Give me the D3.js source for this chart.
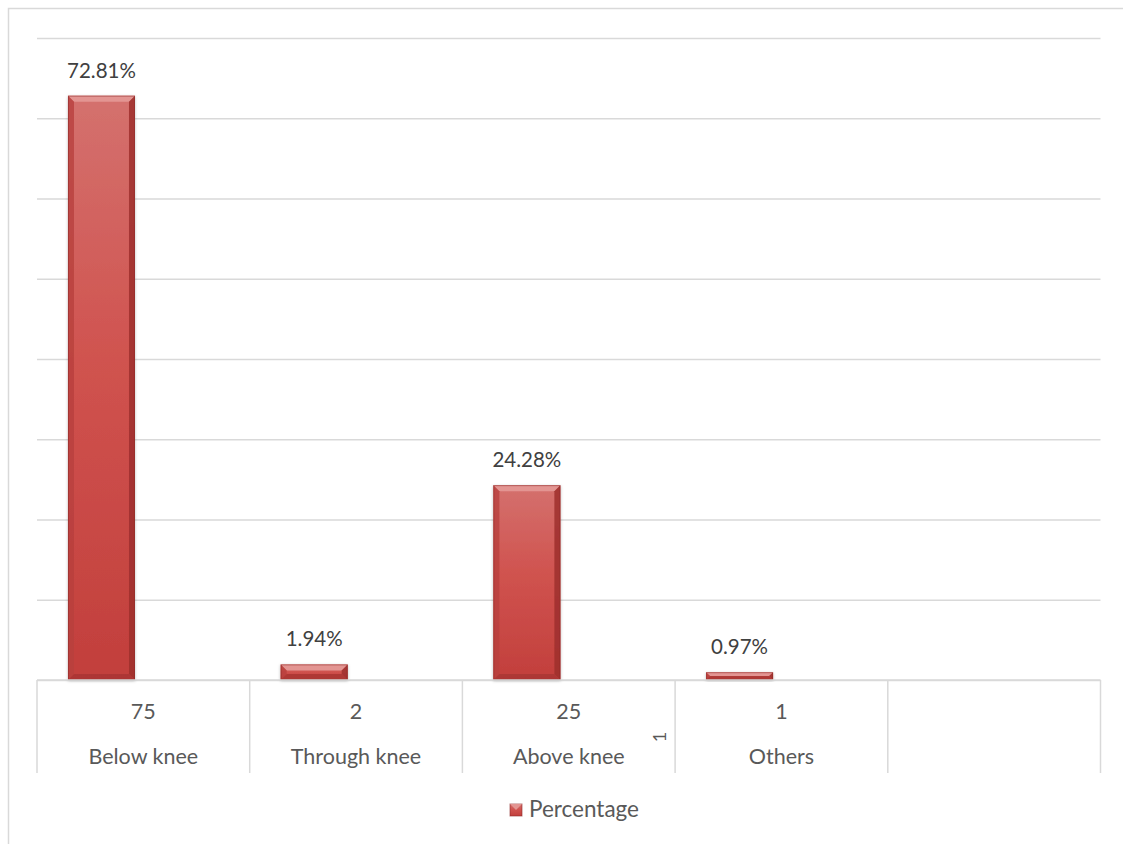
<!DOCTYPE html>
<html>
<head>
<meta charset="utf-8">
<script src="https://cdn.jsdelivr.net/npm/d3@7"></script>
<style>
  html, body { margin: 0; padding: 0; background: #fff; }
  svg { display: block; font-family: Lato, "Open Sans", sans-serif; }
</style>
</head>
<body>
<svg id="chart" width="1123" height="844"></svg>
<script>
// ---- data ----
const categories = ["Below knee", "Through knee", "Above knee", "Others", ""];
const percentages = [0.7281, 0.0194, 0.2428, 0.0097];
const counts = ["75", "2", "25", "1", ""];
const percentLabels = ["72.81%", "1.94%", "24.28%", "0.97%"];
const seriesNames = ["Percentage", "N"];
const yTicks = [0, 0.1, 0.2, 0.3, 0.4, 0.5, 0.6, 0.7, 0.8];
const strayLabel = "1";

// ---- layout ----
const svg = d3.select("#chart");
const W = 1123, H = 844;
const plot = { left: 37, right: 1100.5, top: 38, bottom: 680 };
const textColor = "#595959";
const gridColor = "#d9d9d9";

// outer chart border
svg.append("path")
  .attr("d", `M8.5,${H} L8.5,8.5 L${W},8.5`)
  .attr("fill", "none").attr("stroke", gridColor).attr("stroke-width", 1.5);

const x = d3.scaleBand().domain(categories.map((c, i) => i)).range([plot.left, plot.right]).paddingInner(0).paddingOuter(0);
const xs = d3.scaleBand().domain(seriesNames).range([0, x.bandwidth()]).paddingInner(0.2).paddingOuter(0.37);
const y = d3.scaleLinear().domain([0, 0.8]).range([plot.bottom, plot.top]);

// gridlines
const gAxis = svg.append("g")
  .attr("transform", `translate(${plot.left},0)`)
  .call(d3.axisLeft(y).tickValues(yTicks).tickSize(-(plot.right - plot.left)).tickFormat(""));
gAxis.select(".domain").remove();
gAxis.selectAll(".tick line").attr("stroke", gridColor).attr("stroke-width", 1.5);

// gradients
const defs = svg.append("defs");
const face = defs.append("linearGradient").attr("id", "face").attr("x1", 0).attr("y1", 0).attr("x2", 0).attr("y2", 1);
face.append("stop").attr("offset", "0%").attr("stop-color", "#d4716e");
face.append("stop").attr("offset", "45%").attr("stop-color", "#d0534f");
face.append("stop").attr("offset", "100%").attr("stop-color", "#c23f3c");
const shadow = defs.append("filter").attr("id", "shadow").attr("x", "-20%").attr("y", "-20%").attr("width", "140%").attr("height", "140%");
shadow.append("feDropShadow").attr("dx", 0).attr("dy", 1).attr("stdDeviation", 1.5).attr("flood-color", "#000").attr("flood-opacity", 0.25);

// bars with bevel
const bars = svg.append("g").selectAll("g.bar")
  .data(percentages)
  .join("g").attr("class", "bar")
  .attr("filter", "url(#shadow)");

bars.each(function (d, i) {
  const g = d3.select(this);
  const x0 = x(i) + xs("Percentage");
  const w = xs.bandwidth();
  const y0 = y(d), y1 = y(0);
  const h = y1 - y0;
  const b = Math.min(6, h / 2);
  g.append("rect").attr("x", x0).attr("y", y0).attr("width", w).attr("height", h).attr("fill", "url(#face)");
  g.append("path").attr("d", `M${x0},${y0} L${x0 + w},${y0} L${x0 + w - b},${y0 + b} L${x0 + b},${y0 + b} Z`)
    .attr("fill", "#e39592");
  g.append("path").attr("d", `M${x0},${y0} L${x0 + b},${y0 + b} L${x0 + b},${y1 - b} L${x0},${y1} Z`)
    .attr("fill", "#b8403d").attr("opacity", 0.8);
  g.append("path").attr("d", `M${x0 + w},${y0} L${x0 + w - b},${y0 + b} L${x0 + w - b},${y1 - b} L${x0 + w},${y1} Z`)
    .attr("fill", "#9e2f2d").attr("opacity", 0.85);
  g.append("path").attr("d", `M${x0},${y1} L${x0 + b},${y1 - b} L${x0 + w - b},${y1 - b} L${x0 + w},${y1} Z`)
    .attr("fill", "#a83432").attr("opacity", 0.8);
  g.append("rect").attr("x", x0 + 0.5).attr("y", y0 + 0.5).attr("width", w - 1).attr("height", Math.max(0, h - 1))
    .attr("fill", "none").attr("stroke", "#8c2a28").attr("stroke-opacity", 0.5);
});

// data labels
svg.append("g").selectAll("text")
  .data(percentages)
  .join("text")
  .attr("x", (d, i) => x(i) + xs("Percentage") + xs.bandwidth() / 2)
  .attr("y", d => y(d) - 18)
  .attr("text-anchor", "middle")
  .attr("font-size", 20.5)
  .attr("fill", "#404040")
  .text((d, i) => percentLabels[i]);

// data table under axis
const tbl = svg.append("g");
tbl.append("line").attr("x1", plot.left).attr("x2", plot.right).attr("y1", plot.bottom).attr("y2", plot.bottom)
  .attr("stroke", gridColor).attr("stroke-width", 1.5);
const bounds = categories.map((c, i) => x(i)).concat([plot.right]);
tbl.selectAll("line.v").data(bounds).join("line").attr("class", "v")
  .attr("x1", d => d).attr("x2", d => d).attr("y1", plot.bottom).attr("y2", 773)
  .attr("stroke", gridColor).attr("stroke-width", 1.5);
tbl.selectAll("text.cnt").data(counts).join("text").attr("class", "cnt")
  .attr("x", (d, i) => x(i) + x.bandwidth() / 2).attr("y", 719)
  .attr("text-anchor", "middle").attr("font-size", 21.5).attr("fill", textColor)
  .text(d => d);
tbl.selectAll("text.cat").data(categories).join("text").attr("class", "cat")
  .attr("x", (d, i) => x(i) + x.bandwidth() / 2).attr("y", 764)
  .attr("text-anchor", "middle").attr("font-size", 21.5).attr("fill", textColor)
  .text(d => d);
// stray rotated label
tbl.append("text")
  .attr("transform", `translate(${x(2) + x.bandwidth() - 16},737) rotate(-90)`)
  .attr("text-anchor", "middle").attr("dominant-baseline", "central")
  .attr("font-size", 18).attr("fill", textColor).text(strayLabel);

// legend
const lg = svg.append("g").attr("transform", "translate(510,804)");
lg.append("rect").attr("width", 12).attr("height", 12).attr("fill", "url(#face)")
  .attr("stroke", "#8c2a28").attr("stroke-opacity", 0.6);
lg.append("path").attr("d", "M0,0 L12,0 L6,6 Z").attr("fill", "#e39592");
lg.append("text").attr("x", 19).attr("y", 13).attr("font-size", 22.5).attr("fill", textColor).text(seriesNames[0]);
</script>
</body>
</html>
